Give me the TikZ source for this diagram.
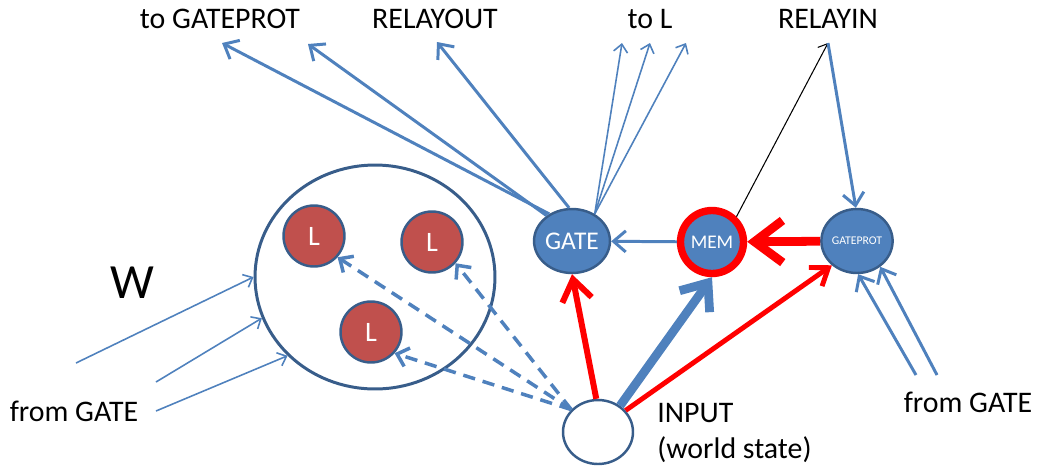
\documentclass[tikz,border=0pt]{standalone}
\usepackage{fontspec}
\setmainfont{Carlito}
\usetikzlibrary{shapes.geometric,arrows.meta}
\definecolor{nodeblue}{HTML}{4F81BD}
\definecolor{edgeblue}{HTML}{385D8A}
\definecolor{lred}{HTML}{C0504D}

\begin{document}
\begin{tikzpicture}[x=0.02cm,y=-0.02cm]
\tikzstyle{every node}+=[inner sep=0pt]
\tikzstyle{unit}=[ellipse,draw=edgeblue,line width=1.4pt,fill=nodeblue,text=white,minimum width=1.4cm,minimum height=1.28cm]
\tikzstyle{lnode}=[circle,draw=edgeblue,line width=1.4pt,fill=lred,text=white,minimum size=1.22cm,font=\fontsize{16}{18}\selectfont]
\tikzstyle{lbl}=[font=\fontsize{17}{20.4}\selectfont,anchor=base]
\tikzstyle{thinarrow}=[draw=nodeblue,line width=0.9pt,-{Straight Barb[length=4.5pt,width=8pt]}]
\tikzstyle{midarrow}=[draw=nodeblue,line width=1.7pt,-{Straight Barb[length=7pt,width=12pt]}]
\tikzstyle{dasharrow}=[draw=nodeblue,line width=2pt,dash pattern=on 7pt off 4.5pt,-{Straight Barb[length=6pt,width=11pt]}]
\useasboundingbox (0,0) rectangle (1041,471);
\node[unit,font=\fontsize{14.5}{17}\selectfont] (gate) at (572,241) {GATE};
\node[circle,draw=red,line width=4.2pt,fill=nodeblue,text=white,minimum size=1.26cm,font=\fontsize{11}{13}\selectfont] (mem) at (712,242) {MEM};
\node[unit,font=\fontsize{6.7}{8}\selectfont] (gp) at (857,241) {GATEPROT};
\node[ellipse,draw=edgeblue,line width=1.4pt,fill=white,minimum width=1.4cm,minimum height=1.28cm] (inp) at (598,432) {};
\node[ellipse,draw=edgeblue,line width=1.7pt,minimum width=4.8cm,minimum height=4.48cm] (world) at (375,277) {};
\node[lnode] (l1) at (314,236) {L};
\node[lnode] (l2) at (432,242) {L};
\node[lnode] (l3) at (371,332) {L};
\node[lbl] (togp) at (220,28) {to GATEPROT};
\node[lbl] (relayout) at (435,28) {RELAYOUT};
\node[lbl] (tol) at (650,28) {to L};
\node[lbl] (relayin) at (828,28) {RELAYIN};
\node[lbl,font=\fontsize{28}{32}\selectfont] (wlabel) at (132,298) {W};
\node[lbl] (fromgl) at (74,421) {from GATE};
\node[lbl] (fromgr) at (968,412) {from GATE};
\node[lbl,anchor=north west,align=left] (inptext) at (657,403) {INPUT\\(world state)};
\coordinate (tg1) at (222,43);
\coordinate (tg2) at (308,44);
\coordinate (ro) at (437,42);
\coordinate (tl1) at (622,43);
\coordinate (tl2) at (650,43);
\coordinate (tl3) at (686,43);
\coordinate (ri) at (828,43);
\coordinate (fl1) at (76,363);
\coordinate (fl2) at (156,382);
\coordinate (fl3) at (156,411);
\coordinate (fr1) at (916,375);
\coordinate (fr2) at (937,375);
\draw[midarrow] (gate.130) -- (tg1);
\draw[midarrow] (gate.135) -- (tg2);
\draw[midarrow] (gate.95) -- (ro);
\foreach \t in {tl1,tl2,tl3} \draw[thinarrow] (gate.50) -- (\t);
\draw[black,line width=0.6pt,-{Straight Barb[length=4.5pt,width=8pt]}] (mem.46) -- (ri);
\draw[midarrow] (ri) -- (gp.92);
\draw[midarrow] (mem) -- (gate);
\draw[red,line width=5pt,-{Straight Barb[length=16pt,width=24pt]}] (gp) -- (mem);
\draw[red,line width=3.4pt,-{Straight Barb[length=12pt,width=17pt]}] (inp.93) -- (gate.-90);
\draw[nodeblue,line width=5pt,-{Straight Barb[length=13pt,width=21pt]}] (inp.50) -- (mem.south);
\draw[red,line width=2.8pt,-{Straight Barb[length=9pt,width=13pt]}] (inp.38) -- (gp.224);
\draw[midarrow] (fr1) -- (gp.-88);
\draw[midarrow] (fr2) -- (gp.-48);
\draw[thinarrow] (fl1) -- (world.180);
\draw[thinarrow] (fl2) -- (world.200);
\draw[thinarrow] (fl3) -- (world.222);
\foreach \l in {l1,l2,l3} \draw[dasharrow] (inp.140) -- (\l.-42);
\end{tikzpicture}
\end{document}
